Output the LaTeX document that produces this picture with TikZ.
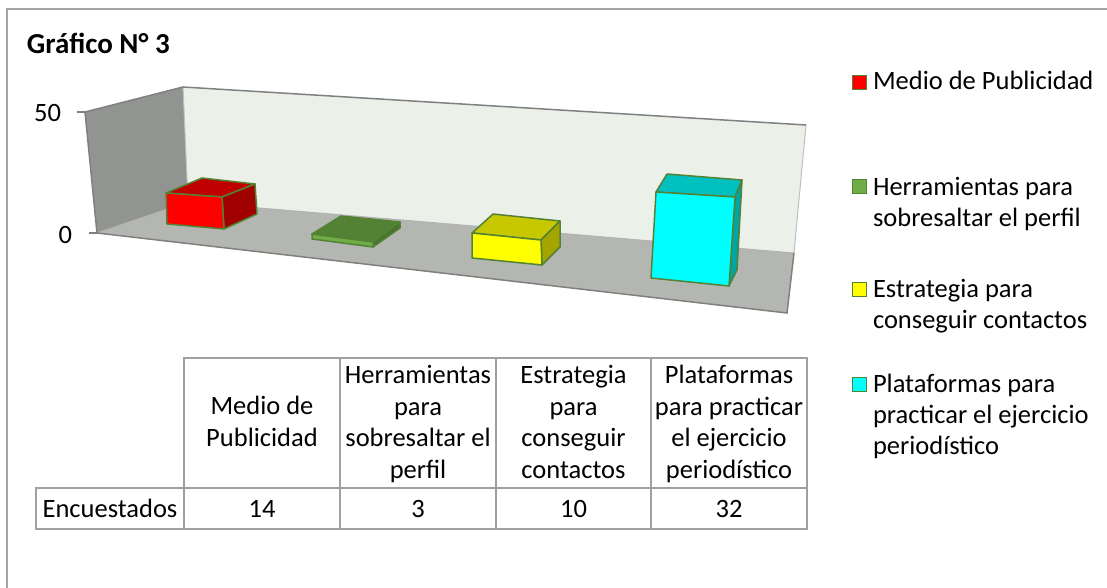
\documentclass[tikz,border=0pt]{standalone}
\usepackage{fontspec}
\setmainfont{Carlito}
\definecolor{lwall}{RGB}{145,148,145}
\definecolor{bwall}{RGB}{235,240,233}
\definecolor{floorc}{RGB}{179,182,177}
\definecolor{edgec}{RGB}{128,128,128}
\definecolor{baredge}{RGB}{84,130,53}
\definecolor{tablec}{RGB}{160,160,160}
\definecolor{framec}{RGB}{165,165,165}
\definecolor{redfront}{RGB}{255,0,0}
\definecolor{redtop}{RGB}{192,0,0}
\definecolor{redside}{RGB}{160,0,0}
\definecolor{grnfront}{RGB}{112,173,71}
\definecolor{grntop}{RGB}{84,130,53}
\definecolor{grnside}{RGB}{74,115,46}
\definecolor{yelfront}{RGB}{255,255,0}
\definecolor{yeltop}{RGB}{200,200,0}
\definecolor{yelside}{RGB}{165,165,0}
\definecolor{cyafront}{RGB}{0,255,255}
\definecolor{cyatop}{RGB}{0,192,192}
\definecolor{cyaside}{RGB}{0,165,165}
\newcommand\bodyfnt{\fontsize{26.5}{31.5}\selectfont}
\newcommand\titlefnt{\fontsize{29}{35}\selectfont\bfseries}
\begin{document}
\begin{tikzpicture}[x=1pt,y=-1pt,
  every node/.style={inner sep=0pt,outer sep=0pt,font=\bodyfnt},
  bar/.style={draw=baredge,line width=1.5pt,line join=round},
  legsq/.style={draw=baredge,line width=1.2pt,minimum size=14pt},
  tbl/.style={draw=tablec,line width=1.5pt},
  wall/.style={draw=edgec,line width=1.5pt},
  lbl/.style={anchor=base},
  leg/.style={anchor=base west}]
\useasboundingbox (0,0) rectangle (1107,588);
\fill[white] (0,0) rectangle (1107,588);
% frame
\draw[framec,line width=1.5pt] (7,588) -- (7,9) -- (1107,9);
% walls and floor
\fill[bwall] (183,87) -- (806,125) -- (794,253) -- (188,202) -- cycle;
\fill[lwall] (85,112) -- (183,87) -- (188,202) -- (97,233) -- cycle;
\fill[floorc] (97,233) -- (188,202) -- (794,253) -- (787,313) -- cycle;
\draw[edgec!50,line width=1pt] (183,87) -- (188,202);
\draw[edgec!60,line width=1pt] (97,233) -- (188,202) -- (794,253);
\draw[edgec!50,line width=1pt] (806,125) -- (794,253);
\draw[wall] (97,233) -- (85,112) -- (183,87) -- (806,125);
\draw[wall] (97,233) -- (787,313) -- (794,253);
% ticks
\draw[wall] (77,112) -- (85,112);
\draw[wall] (89,233) -- (97,233);
\node[anchor=east] (l50) at (61,113) {50};
\node[anchor=east] (l0) at (72,235) {0};
% red bar
\filldraw[bar,fill=redtop] (166,193) -- (222,197) -- (255,184) -- (202,178) -- cycle;
\filldraw[bar,fill=redside] (222,197) -- (255,184) -- (257,214) -- (224,229) -- cycle;
\filldraw[bar,fill=redfront] (166,193) -- (222,197) -- (224,229) -- (167,224) -- cycle;
% green bar
\filldraw[bar,fill=grntop] (312,234) -- (373,242) -- (400,222) -- (341,216) -- cycle;
\filldraw[bar,fill=grnside] (373,242) -- (400,222) -- (400,228) -- (373,247) -- cycle;
\filldraw[bar,fill=grnfront] (312,234) -- (373,242) -- (373,247) -- (312,239) -- cycle;
% yellow bar
\filldraw[bar,fill=yeltop] (472,233) -- (541,240) -- (560,221) -- (493,214) -- cycle;
\filldraw[bar,fill=yelside] (541,240) -- (560,221) -- (560,247) -- (542,265) -- cycle;
\filldraw[bar,fill=yelfront] (472,233) -- (541,240) -- (542,265) -- (472,258) -- cycle;
% cyan bar
\filldraw[bar,fill=cyatop] (656,192) -- (735,197) -- (742,180) -- (667,174) -- cycle;
\filldraw[bar,fill=cyaside] (735,197) -- (742,180) -- (737,270) -- (729,286) -- cycle;
\filldraw[bar,fill=cyafront] (656,192) -- (735,197) -- (729,286) -- (651,278) -- cycle;
% title
\node[anchor=base west,font=\titlefnt] (title) at (27,54) {Gráfico N° 3};
% legend
\node[legsq,fill=redfront] (sq1) at (859.5,82.5) {};
\node[legsq,fill=grnfront] (sq2) at (859.5,186.5) {};
\node[legsq,fill=yelfront] (sq3) at (859.5,289.5) {};
\node[legsq,fill=cyafront] (sq4) at (859.5,384.5) {};
\node[leg] (lg1) at (873,90) {Medio de Publicidad};
\node[leg] (lg2a) at (873,195) {Herramientas para};
\node[leg] (lg2b) at (873,226) {sobresaltar el perfil};
\node[leg] (lg3a) at (873,297) {Estrategia para};
\node[leg] (lg3b) at (873,328) {conseguir contactos};
\node[leg] (lg4a) at (873,392) {Plataformas para};
\node[leg] (lg4b) at (873,423) {practicar el ejercicio};
\node[leg] (lg4c) at (873,454) {periodístico};
% table
\draw[tbl] (184,358) rectangle (807,488);
\draw[tbl] (36,488) rectangle (807,529);
\draw[tbl] (184,488) -- (184,529);
\draw[tbl] (340,358) -- (340,529);
\draw[tbl] (496,358) -- (496,529);
\draw[tbl] (651,358) -- (651,529);
\node[lbl] (h1a) at (262,414.5) {Medio de};
\node[lbl] (h1b) at (262,446) {Publicidad};
\node[lbl] (h2a) at (418,383) {Herramientas};
\node[lbl] (h2b) at (418,415) {para};
\node[lbl] (h2c) at (418,446.5) {sobresaltar el};
\node[lbl] (h2d) at (418,478) {perfil};
\node[lbl] (h3a) at (573.5,383) {Estrategia};
\node[lbl] (h3b) at (573.5,415) {para};
\node[lbl] (h3c) at (573.5,446.5) {conseguir};
\node[lbl] (h3d) at (573.5,478) {contactos};
\node[lbl] (h4a) at (729,383) {Plataformas};
\node[lbl] (h4b) at (729,415) {para practicar};
\node[lbl] (h4c) at (729,446.5) {el ejercicio};
\node[lbl] (h4d) at (729,478) {periodístico};
\node[lbl] (rowlab) at (110,517) {Encuestados};
\node[lbl] (v1) at (262,517) {14};
\node[lbl] (v2) at (418,517) {3};
\node[lbl] (v3) at (573.5,517) {10};
\node[lbl] (v4) at (729,517) {32};
\end{tikzpicture}
\end{document}
